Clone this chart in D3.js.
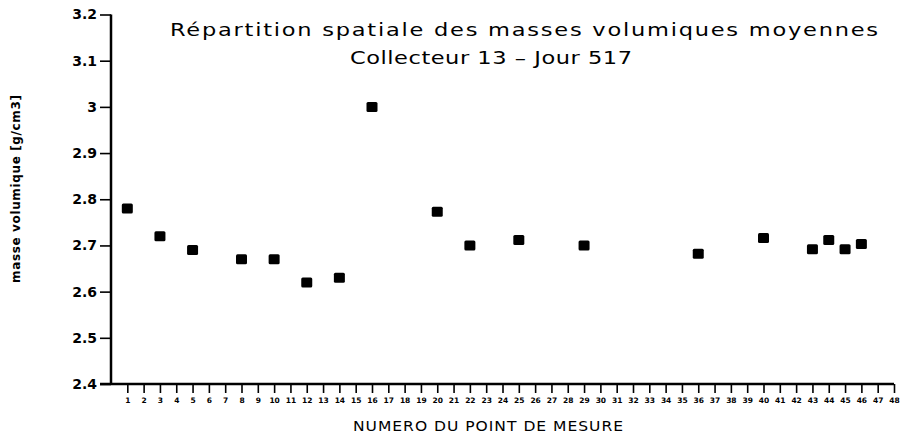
<!DOCTYPE html>
<html><head><meta charset="utf-8">
<script src="https://cdn.jsdelivr.net/npm/d3@7"></script>
<style>body{margin:0;background:#fff}svg{display:block}</style>
</head><body>
<svg id="c" width="904" height="439"></svg>
<script>
const points = [1,3,5,8,10,12,14,16,20,22,25,29,36,40,43,44,45,46];
const values = [2.78,2.72,2.69,2.67,2.67,2.62,2.63,3.00,2.773,2.70,2.712,2.70,2.682,2.716,2.692,2.712,2.692,2.703];
const xTicks = d3.range(1,49);
const yTicks = [2.4,2.5,2.6,2.7,2.8,2.9,3,3.1,3.2];
const title1 = "Répartition spatiale des masses volumiques moyennes";
const title2 = "Collecteur 13 – Jour 517";
const xLabel = "NUMERO DU POINT DE MESURE";
const yLabel = "masse volumique [g/cm3]";

const svg = d3.select("#c");
const x = d3.scaleLinear().domain([0,48]).range([111,894]);
const y = d3.scaleLinear().domain([2.4,3.2]).range([384,14.5]);
const font = "'DejaVu Sans', sans-serif";

// y axis
const ya = svg.append("g").attr("transform","translate(111,0)")
  .call(d3.axisLeft(y).tickValues(yTicks).tickSize(11).tickPadding(3).tickFormat(d=>d===3?"3":d3.format(".1f")(d)));
ya.select(".domain").attr("stroke","#000").attr("stroke-width",2.5).attr("d","M0,14.5V385");
ya.selectAll(".tick line").attr("stroke","#000").attr("stroke-width",1.6);
ya.selectAll(".tick text").attr("font-family",font).attr("font-weight","bold").attr("font-size",14).attr("fill","#000");

// x axis
const xa = svg.append("g").attr("transform","translate(0,384)")
  .call(d3.axisBottom(x).tickValues(xTicks).tickSize(9).tickPadding(5).tickFormat(d3.format("d")));
xa.select(".domain").attr("stroke","#000").attr("stroke-width",2.5).attr("d","M100,0H894");
xa.selectAll(".tick line").attr("stroke","#000").attr("stroke-width",1.6);
xa.selectAll(".tick text").attr("font-family",font).attr("font-weight","bold").attr("font-size",7.5).attr("fill","#000");

// points
svg.append("g").selectAll("rect").data(points).join("rect")
  .attr("x",(d)=>x(d)-5.5).attr("y",(d,i)=>y(values[i])-5)
  .attr("width",11).attr("height",10).attr("rx",1.5).attr("fill","#000");

// titles (horizontally stretched to mimic the wide geometric font)
const sx = 1.25;
svg.append("text").attr("transform",`scale(${sx},1)`).attr("x",170/sx).attr("y",36).attr("font-family",font).attr("font-size",18)
  .attr("textLength",708/sx).attr("lengthAdjust","spacing").attr("fill","#000").text(title1);
svg.append("text").attr("transform",`scale(${sx},1)`).attr("x",350/sx).attr("y",64).attr("font-family",font).attr("font-size",18)
  .attr("textLength",282/sx).attr("lengthAdjust","spacing").attr("fill","#000").text(title2);

// axis labels
svg.append("text").attr("transform",`scale(1.15,1)`).attr("x",353/1.15).attr("y",431).attr("font-family",font).attr("font-size",13.5)
  .attr("textLength",270/1.15).attr("lengthAdjust","spacing").attr("fill","#000").text(xLabel);
svg.append("text").attr("transform","translate(20,283) rotate(-90)").attr("font-family",font)
  .attr("font-weight","bold").attr("font-size",12).attr("textLength",188).attr("lengthAdjust","spacing")
  .attr("fill","#000").text(yLabel);
</script>
</body></html>
